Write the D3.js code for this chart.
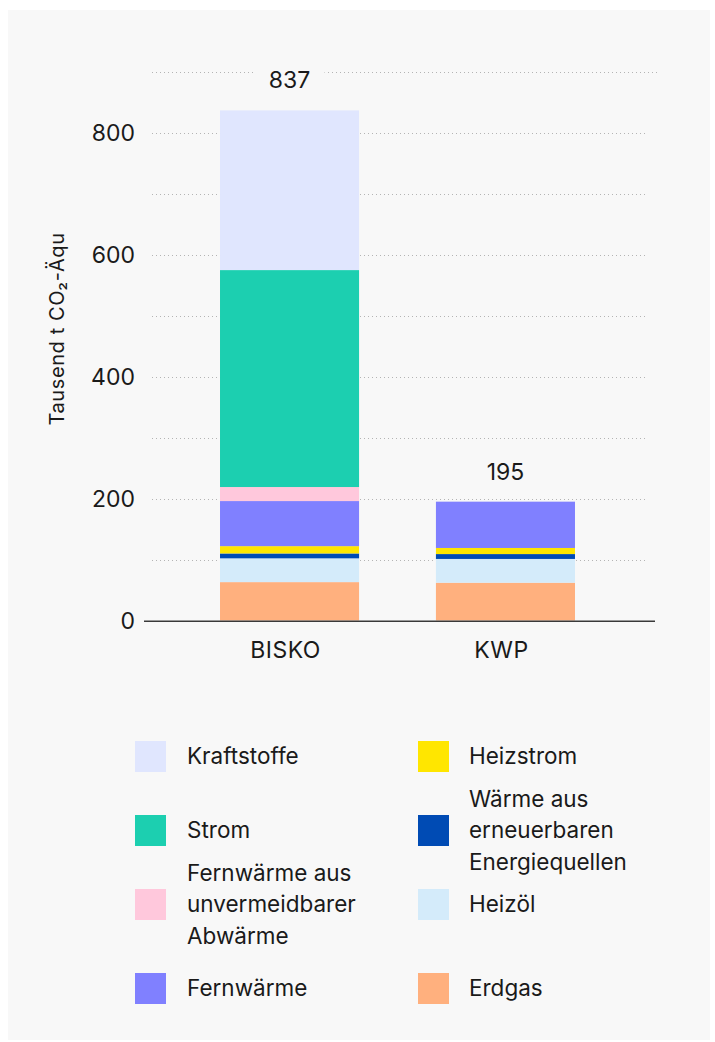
<!DOCTYPE html>
<html>
<head>
<meta charset="utf-8">
<script src="https://cdn.jsdelivr.net/npm/d3@7"></script>
<style>
  html, body { margin: 0; padding: 0; background: #ffffff; }
  svg { display: block; font-family: Inter, "Noto Sans", sans-serif; }
</style>
</head>
<body>
<svg id="chart" width="715" height="1042"></svg>
<script>
// ---- data ----
const categories = ["BISKO", "KWP"];
// stack order bottom -> top
const seriesNames = ["Erdgas", "Heizöl", "Wärme aus erneuerbaren Energiequellen", "Heizstrom",
  "Fernwärme", "Fernwärme aus unvermeidbarer Abwärme", "Strom", "Kraftstoffe"];
const erdgas       = [63, 62];
const heizoel      = [39, 39];
const waermeEE     = [8, 8];
const heizstrom    = [12, 10];
const fernwaerme   = [74, 76];
const abwaerme     = [23, 0];
const strom        = [356, 0];
const kraftstoffe  = [262, 0];
const seriesColors = ["#ffb07e", "#d4ebfa", "#004bb4", "#ffe600", "#8080ff", "#ffc8dc", "#1ccfb0", "#e0e6fe"];
const gridTicks = [0, 100, 200, 300, 400, 500, 600, 700, 800, 900];
const labelTicks = [0, 200, 400, 600, 800];
const yTitle = "Tausend t CO₂-Äqu";
// legend layout: [left column top->bottom], [right column top->bottom]
const legendLeft = [
  { name: "Kraftstoffe", lines: ["Kraftstoffe"] },
  { name: "Strom", lines: ["Strom"] },
  { name: "Fernwärme aus unvermeidbarer Abwärme", lines: ["Fernwärme aus", "unvermeidbarer", "Abwärme"] },
  { name: "Fernwärme", lines: ["Fernwärme"] }
];
const legendRight = [
  { name: "Heizstrom", lines: ["Heizstrom"] },
  { name: "Wärme aus erneuerbaren Energiequellen", lines: ["Wärme aus", "erneuerbaren", "Energiequellen"] },
  { name: "Heizöl", lines: ["Heizöl"] },
  { name: "Erdgas", lines: ["Erdgas"] }
];

const seriesValues = [erdgas, heizoel, waermeEE, heizstrom, fernwaerme, abwaerme, strom, kraftstoffe];
const table = categories.map((c, i) => {
  const row = { category: c };
  seriesNames.forEach((s, k) => row[s] = seriesValues[k][i]);
  return row;
});
const colorOf = d3.scaleOrdinal().domain(seriesNames).range(seriesColors);

// ---- layout ----
const svg = d3.select("#chart");
const panelColor = "#f8f8f8";
svg.append("rect").attr("x", 8).attr("y", 10).attr("width", 702).attr("height", 1030).attr("fill", panelColor);

const x = d3.scaleBand().domain(categories).range([152, 643]).paddingInner(0.356).paddingOuter(0.315);
const y = d3.scaleLinear().domain([0, 900]).range([620.5, 72]);

const textColor = "#1a1a1a";

// gridlines
const grid = svg.append("g").attr("class", "grid");
grid.selectAll("line").data(gridTicks.filter(t => t > 0)).join("line")
  .attr("x1", 152).attr("x2", d => d === 900 ? 660 : 648)
  .attr("y1", d => Math.round(y(d)) + 0.5).attr("y2", d => Math.round(y(d)) + 0.5)
  .attr("stroke", "#b4b4b4").attr("stroke-width", 1).attr("stroke-dasharray", "1,3");

// y tick labels
svg.append("g").selectAll("text").data(labelTicks).join("text")
  .attr("x", 135).attr("y", d => y(d)).attr("dy", "0.35em")
  .attr("text-anchor", "end").attr("fill", textColor)
  .style("font-size", "23px").text(d => d3.format("d")(d));

// y title
svg.append("text")
  .attr("transform", `translate(64, ${329}) rotate(-90)`)
  .attr("text-anchor", "middle").attr("fill", textColor)
  .style("font-size", "20px").style("letter-spacing", "0.6px").text(yTitle);

// stacked bars
const stack = d3.stack().keys(seriesNames);
const stacked = stack(table);
svg.append("g").selectAll("g").data(stacked).join("g")
  .attr("fill", d => colorOf(d.key))
  .selectAll("rect").data(d => d).join("rect")
  .attr("x", d => x(d.data.category))
  .attr("width", x.bandwidth())
  .attr("y", d => y(d[1]))
  .attr("height", d => Math.max(0, y(d[0]) - y(d[1])));

// baseline
svg.append("line").attr("x1", 144).attr("x2", 655)
  .attr("y1", y(0) + 0.8).attr("y2", y(0) + 0.8)
  .attr("stroke", "#3a3a3a").attr("stroke-width", 1.5);

// totals
const totals = table.map(r => ({ category: r.category, total: d3.sum(seriesNames, s => r[s]) }));
const tot = svg.append("g").selectAll("g").data(totals).join("g");
tot.append("rect")
  .attr("x", d => x(d.category) + x.bandwidth() / 2 - 35)
  .attr("width", 70)
  .attr("y", d => y(d.total) - 42).attr("height", 28)
  .attr("fill", panelColor);
tot.append("text")
  .attr("x", d => x(d.category) + x.bandwidth() / 2)
  .attr("y", d => y(d.total) - 22)
  .attr("text-anchor", "middle").attr("fill", textColor)
  .style("font-size", "23px").text(d => d.total);

// x labels
svg.append("g").selectAll("text").data(categories).join("text")
  .attr("x", d => x(d) + x.bandwidth() / 2 - 4)
  .attr("y", 650).attr("dy", "0.35em")
  .attr("text-anchor", "middle").attr("fill", textColor)
  .style("font-size", "23px").style("letter-spacing", "0.5px").text(d => d);

// legend
const rowY = [756.5, 830.5, 904.5, 988.5];
function drawLegend(items, sx, tx) {
  const g = svg.append("g");
  items.forEach((it, i) => {
    g.append("rect").attr("x", sx).attr("y", rowY[i] - 15.5).attr("width", 31).attr("height", 31)
      .attr("fill", colorOf(it.name));
    const n = it.lines.length;
    const lh = 31.7;
    const t = g.append("text").attr("fill", textColor).style("font-size", "22.5px");
    it.lines.forEach((ln, j) => {
      t.append("tspan").attr("x", tx)
        .attr("y", rowY[i] + (j - (n - 1) / 2) * lh)
        .attr("dy", "0.35em").text(ln);
    });
  });
}
drawLegend(legendLeft, 135, 187);
drawLegend(legendRight, 418, 469);
</script>
</body>
</html>
